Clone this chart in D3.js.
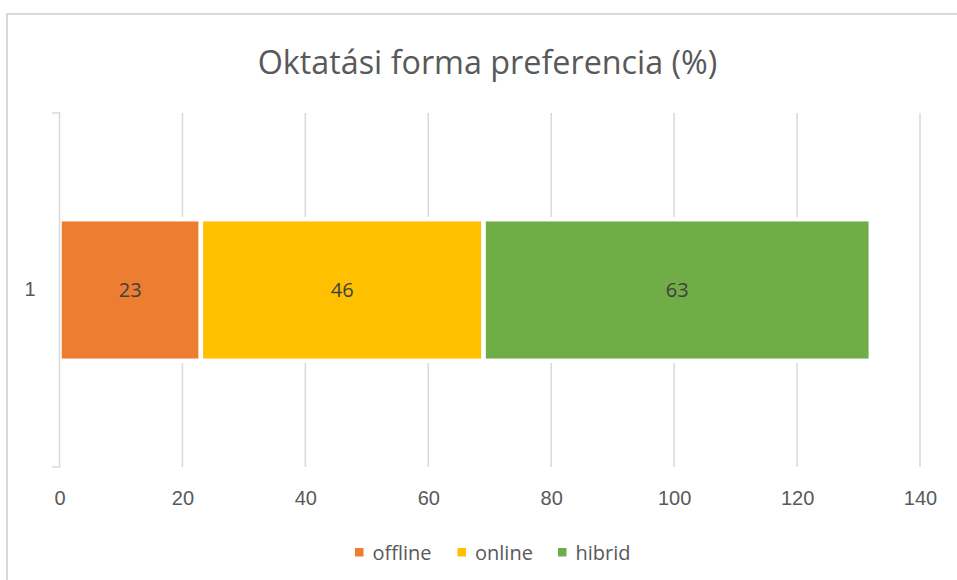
<!DOCTYPE html>
<html>
<head>
<meta charset="utf-8">
<script src="https://cdn.jsdelivr.net/npm/d3@7"></script>
<style>
  html, body { margin: 0; padding: 0; background: #fff; }
  svg { display: block; font-family: "Open Sans", "Noto Sans", sans-serif; }
</style>
</head>
<body>
<svg id="chart" width="957" height="580"></svg>
<script>
const title = "Oktatási forma preferencia (%)";
const categories = ["1"];
const seriesNames = ["offline", "online", "hibrid"];
const seriesColors = ["#ED7D31", "#FFC000", "#70AD47"];
const offline = [23];
const online = [46];
const hibrid = [63];
const xTicks = [0, 20, 40, 60, 80, 100, 120, 140];

const seriesValues = [offline, online, hibrid];
const rows = categories.map((c, i) => {
  const r = { cat: c };
  seriesNames.forEach((s, j) => r[s] = seriesValues[j][i]);
  return r;
});
const stacked = d3.stack().keys(seriesNames)(rows);

const svg = d3.select("#chart");
const gridColor = "#d9d9d9";
const textColor = "#595959";

// chart border
svg.append("path")
  .attr("d", "M7,600 L7,14 L980,14")
  .attr("fill", "none")
  .attr("stroke", gridColor)
  .attr("stroke-width", 2);

const plotLeft = 59.5, plotRight = 920, plotTop = 113, plotBottom = 467;

const x = d3.scaleLinear().domain([0, 140]).range([plotLeft, plotRight]);
const y = d3.scaleBand().domain(categories).range([plotTop, plotBottom])
  .paddingInner(0).paddingOuter(0.75);

// title
svg.append("text")
  .attr("x", 487.5).attr("y", 74)
  .attr("text-anchor", "middle")
  .attr("fill", textColor)
  .attr("font-size", 32.3)
  .text(title);

// gridlines
svg.append("g").selectAll("line")
  .data(xTicks.filter(d => d > 0))
  .join("line")
  .attr("x1", d => x(d)).attr("x2", d => x(d))
  .attr("y1", plotTop).attr("y2", plotBottom)
  .attr("stroke", gridColor).attr("stroke-width", 1.5);

// bars
const groups = svg.append("g").selectAll("g")
  .data(stacked).join("g")
  .attr("fill", (d, i) => seriesColors[i]);

groups.selectAll("rect")
  .data(d => d.map(v => ({ v, cat: v.data.cat })))
  .join("rect")
  .attr("x", d => x(d.v[0]))
  .attr("width", d => x(d.v[1]) - x(d.v[0]))
  .attr("y", d => y(d.cat))
  .attr("height", y.bandwidth())
  .attr("stroke", "#fff")
  .attr("stroke-width", 4.5);

// data labels
groups.selectAll("text")
  .data(d => d.map(v => ({ v, cat: v.data.cat })))
  .join("text")
  .attr("x", d => (x(d.v[0]) + x(d.v[1])) / 2)
  .attr("y", d => y(d.cat) + y.bandwidth() / 2)
  .attr("dy", "0.35em")
  .attr("text-anchor", "middle")
  .attr("fill", "#404040")
  .attr("font-size", 20)
  .text(d => d.v[1] - d.v[0]);

// y axis
const yAxis = d3.axisLeft(y).tickSize(0).tickPadding(24);
const yg = svg.append("g").attr("transform", `translate(${plotLeft},0)`).call(yAxis);
yg.select(".domain").remove();
yg.selectAll("text").attr("fill", textColor).attr("font-size", 20).attr("font-family", null);
svg.append("path")
  .attr("d", `M${plotLeft - 7.5},${plotTop} H${plotLeft} V${plotBottom} H${plotLeft - 7.5}`)
  .attr("fill", "none")
  .attr("stroke", gridColor)
  .attr("stroke-width", 1.5);

// x axis labels
const xAxis = d3.axisBottom(x).tickValues(xTicks).tickSize(0).tickPadding(24);
const xg = svg.append("g").attr("transform", `translate(0,${plotBottom})`).call(xAxis);
xg.select(".domain").remove();
xg.selectAll("text").attr("fill", textColor).attr("font-size", 20).attr("font-family", null);

// legend
const legendX = [355, 457.5, 558];
const legend = svg.append("g").selectAll("g")
  .data(seriesNames).join("g")
  .attr("transform", (d, i) => `translate(${legendX[i]},548)`);
legend.append("rect")
  .attr("width", 8.5).attr("height", 8.5)
  .attr("fill", (d, i) => seriesColors[i]);
legend.append("text")
  .attr("x", 17.5).attr("y", 11.5)
  .attr("fill", textColor)
  .attr("font-size", 20)
  .text(d => d);
</script>
</body>
</html>
